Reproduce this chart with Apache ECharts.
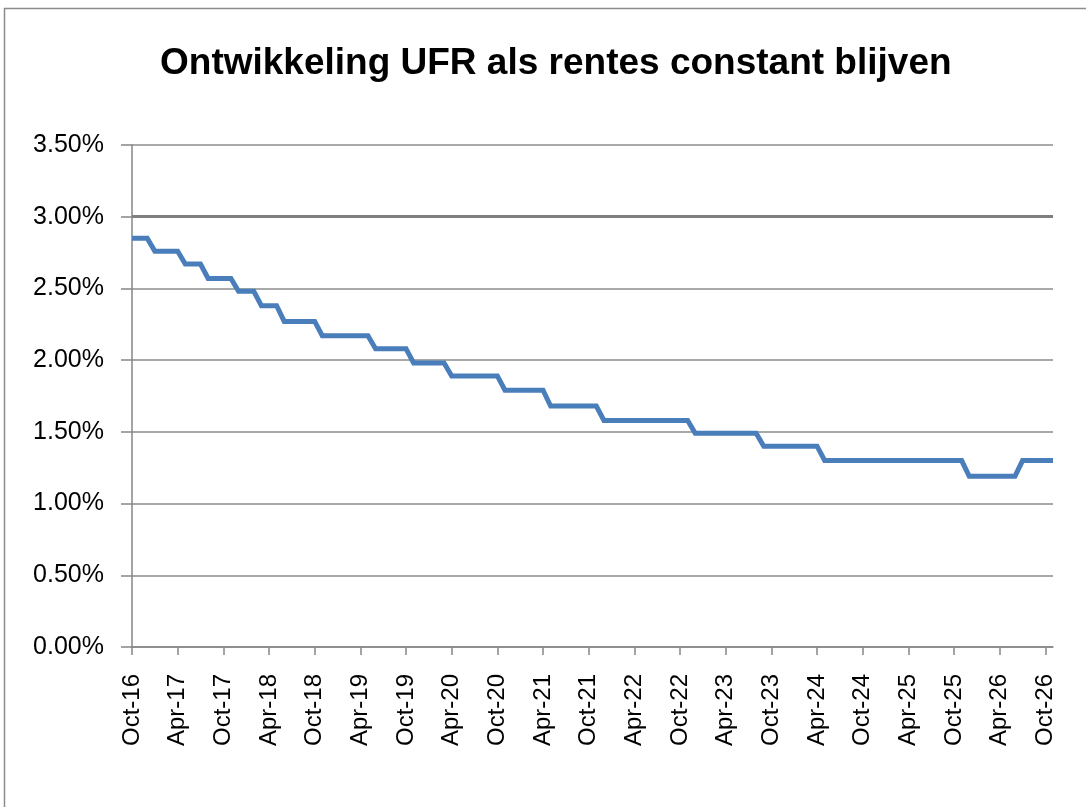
<!DOCTYPE html>
<html>
<head>
<meta charset="utf-8">
<script src="https://cdn.jsdelivr.net/npm/echarts@6/dist/echarts.min.js"></script>
<style>
  html, body { margin: 0; padding: 0; background: #fff; }
  #chart { width: 1086px; height: 807px; }
</style>
</head>
<body>
<div id="chart"></div>
<script>
  // maanden Oct-16 .. Nov-26 (categorie-as)
  const startYear = 2016;
  const startMonth = 9; // oktober
  const monthCount = 122;
  const monthNames = ['Jan', 'Feb', 'Mar', 'Apr', 'May', 'Jun', 'Jul', 'Aug', 'Sep', 'Oct', 'Nov', 'Dec'];

  // UFR per maand (%)
  const ufr2016 = [2.85, 2.85, 2.85];
  const ufr2017 = [2.76, 2.76, 2.76, 2.76, 2.67, 2.67, 2.67, 2.57, 2.57, 2.57, 2.57, 2.48];
  const ufr2018 = [2.48, 2.48, 2.38, 2.38, 2.38, 2.27, 2.27, 2.27, 2.27, 2.27, 2.17, 2.17];
  const ufr2019 = [2.17, 2.17, 2.17, 2.17, 2.17, 2.08, 2.08, 2.08, 2.08, 2.08, 1.98, 1.98];
  const ufr2020 = [1.98, 1.98, 1.98, 1.89, 1.89, 1.89, 1.89, 1.89, 1.89, 1.89, 1.79, 1.79];
  const ufr2021 = [1.79, 1.79, 1.79, 1.79, 1.68, 1.68, 1.68, 1.68, 1.68, 1.68, 1.68, 1.58];
  const ufr2022 = [1.58, 1.58, 1.58, 1.58, 1.58, 1.58, 1.58, 1.58, 1.58, 1.58, 1.58, 1.49];
  const ufr2023 = [1.49, 1.49, 1.49, 1.49, 1.49, 1.49, 1.49, 1.49, 1.40, 1.40, 1.40, 1.40];
  const ufr2024 = [1.40, 1.40, 1.40, 1.40, 1.30, 1.30, 1.30, 1.30, 1.30, 1.30, 1.30, 1.30];
  const ufr2025 = [1.30, 1.30, 1.30, 1.30, 1.30, 1.30, 1.30, 1.30, 1.30, 1.30, 1.30, 1.19];
  const ufr2026 = [1.19, 1.19, 1.19, 1.19, 1.19, 1.19, 1.30, 1.30, 1.30, 1.30, 1.30];

  // referentielijn op 3%
  const refLevel = 3.0;

  const yTicks = { min: 0, max: 3.5, interval: 0.5 };

  const categories = [];
  for (let i = 0; i < monthCount; i++) {
    const m = (startMonth + i) % 12;
    const y = startYear + Math.floor((startMonth + i) / 12);
    categories.push(monthNames[m] + '-' + String(y).slice(2));
  }

  const ufrValues = [].concat(ufr2016, ufr2017, ufr2018, ufr2019, ufr2020, ufr2021,
    ufr2022, ufr2023, ufr2024, ufr2025, ufr2026);

  const chart = echarts.init(document.getElementById('chart'));

  const option = {
    animation: false,
    title: {
      text: 'Ontwikkeling UFR als rentes constant blijven',
      left: 155,
      top: 40,
      textStyle: {
        fontFamily: "'Liberation Sans', Arial, sans-serif",
        fontWeight: 'bold',
        fontSize: 37,
        color: '#000',
      },
    },
    graphic: [
      {
        type: 'rect',
        shape: { x: 4.5, y: 8.5, width: 1200, height: 900 },
        style: { fill: 'none', stroke: '#8c8c8c', lineWidth: 1.5 },
        silent: true,
      },
    ],
    grid: {
      left: 132,
      right: 33,
      top: 145,
      bottom: 160,
      containLabel: false,
    },
    xAxis: {
      type: 'category',
      data: categories,
      boundaryGap: false,
      axisLine: { lineStyle: { color: '#868686', width: 1.5 } },
      axisTick: {
        interval: 5,
        length: 8,
        lineStyle: { color: '#868686', width: 1.5 },
      },
      axisLabel: {
        interval: 5,
        rotate: 90,
        margin: 27,
        color: '#000',
        fontFamily: "'Liberation Sans', Arial, sans-serif",
        fontSize: 24,
      },
      splitLine: { show: false },
    },
    yAxis: {
      type: 'value',
      min: yTicks.min,
      max: yTicks.max,
      interval: yTicks.interval,
      axisLine: { show: true, lineStyle: { color: '#868686', width: 1.5 } },
      axisTick: {
        show: true,
        length: 11,
        lineStyle: { color: '#868686', width: 1.5 },
      },
      axisLabel: {
        margin: 28,
        color: '#000',
        fontFamily: "'Liberation Sans', Arial, sans-serif",
        fontSize: 25,
        formatter: (v) => v.toFixed(2) + '%',
      },
      splitLine: { show: true, lineStyle: { color: '#8c8c8c', width: 1.5 } },
    },
    series: [
      {
        name: 'UFR',
        type: 'line',
        data: ufrValues,
        showSymbol: false,
        symbol: 'none',
        lineStyle: { color: '#4a7ebb', width: 5, join: 'miter' },
        itemStyle: { color: '#4a7ebb' },
        z: 3,
        markLine: {
          silent: true,
          symbol: ['none', 'none'],
          label: { show: false },
          lineStyle: { color: '#7f7f7f', width: 3, type: 'solid' },
          data: [{ yAxis: refLevel }],
          z: 2,
        },
      },
    ],
  };

  chart.setOption(option);
</script>
</body>
</html>
